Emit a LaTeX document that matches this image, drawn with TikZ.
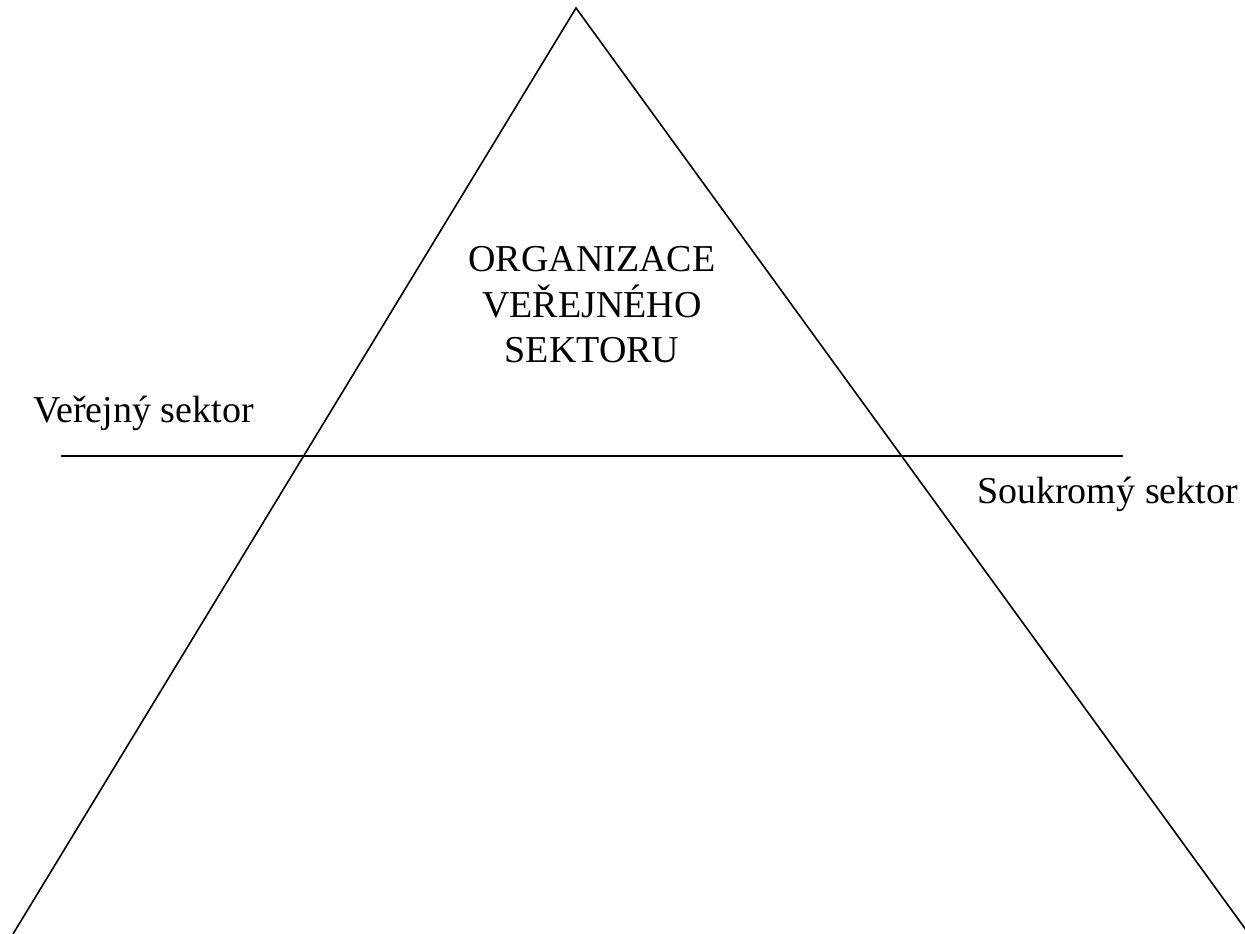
\documentclass[tikz,border=0pt]{standalone}
\usepackage{fontspec}
\setmainfont{Liberation Serif}
\begin{document}
\begin{tikzpicture}[x=1pt,y=-1pt,
  edge/.style={line width=1.6pt, line join=miter},
  lbl/.style={inner sep=0pt, font=\fontsize{38}{45.5}\selectfont}]
\useasboundingbox (0,0) rectangle (1245,934);
\coordinate (apex) at (576,8);
\coordinate (bl) at (13,934);
\coordinate (br) at (1249,934);
\coordinate (hl) at (61,456);
\coordinate (hr) at (1123,456);
\draw[edge] (bl) -- (apex) -- (br);
\draw[edge] (hl) -- (hr);
\node[lbl, align=center] (org) at (592,305) {ORGANIZACE\\VEŘEJNÉHO\\SEKTORU};
\node[lbl, anchor=base west] (ver) at (33,422) {Veřejný sektor};
\node[lbl, anchor=base west] (sou) at (977,503) {Soukromý sektor};
\end{tikzpicture}
\end{document}
